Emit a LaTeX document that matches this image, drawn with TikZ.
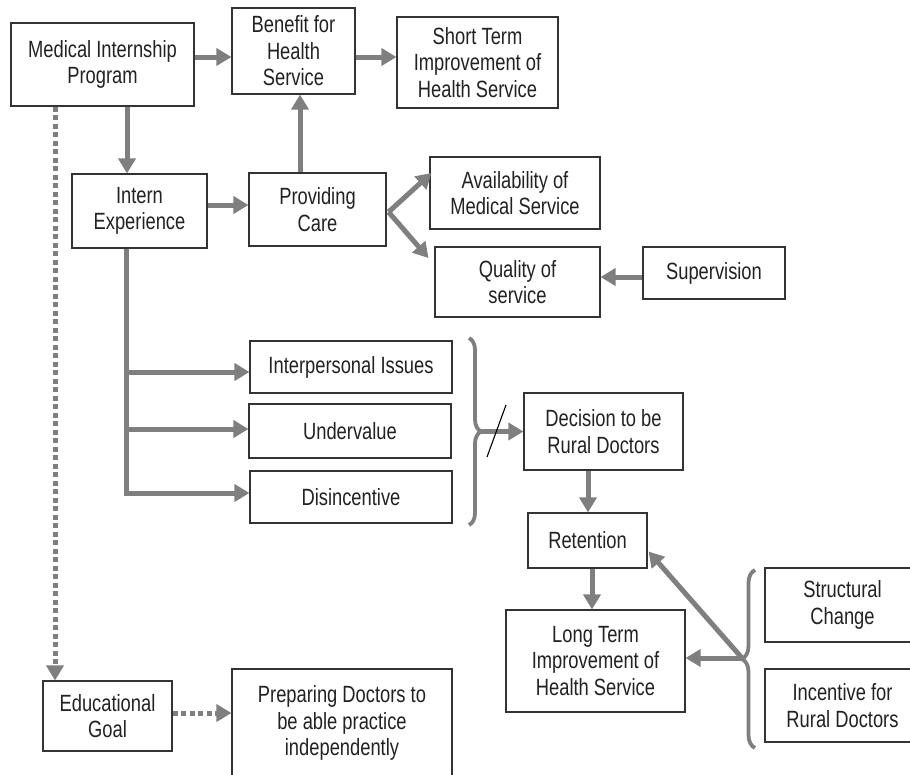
\documentclass[tikz,border=0pt]{standalone}
\usepackage{fontspec}
\setmainfont[FakeStretch=0.78]{Liberation Sans}
\usetikzlibrary{arrows.meta,decorations.pathreplacing}
\definecolor{arrgray}{HTML}{7F7F7F}
\definecolor{boxline}{HTML}{333333}
\definecolor{txt}{HTML}{222222}
\begin{document}
\begin{tikzpicture}[x=1pt,y=-1pt,
  box/.style={draw=boxline, line width=1.1pt, fill=white, align=center, inner sep=0pt,
    text=txt, font=\fontsize{23.5}{26.5}\selectfont},
  arr/.style={draw=arrgray, line width=5pt, -{Triangle[length=15pt,width=17pt]}},
  darr/.style={arr, dash pattern=on 5pt off 3.5pt},
  bracestyle/.style={draw=arrgray, line width=3.8pt, decorate},
  slash/.style={draw=black, line width=1.1pt}
]
\useasboundingbox (0,0) rectangle (910,774);

% boxes (centre, width, height from the reference)
\node[box, minimum width=183pt, minimum height=83pt] (mip) at (102.5,64.5) {Medical Internship\\Program};
\node[box, minimum width=123pt, minimum height=86pt] (benefit) at (293.5,51) {Benefit for\\Health\\Service};
\node[box, minimum width=161pt, minimum height=91pt] (short) at (477.5,62.5) {Short Term\\Improvement of\\Health Service};
\node[box, minimum width=135pt, minimum height=74pt] (intern) at (139.5,211) {Intern\\Experience};
\node[box, minimum width=137pt, minimum height=73pt] (care) at (317.5,209.5) {Providing\\Care};
\node[box, minimum width=170pt, minimum height=72pt] (avail) at (515,193) {Availability of\\Medical Service};
\node[box, minimum width=165pt, minimum height=70pt] (quality) at (517.5,282) {Quality of\\service};
\node[box, minimum width=142pt, minimum height=52pt] (superv) at (714,273) {Supervision};
\node[box, minimum width=202pt, minimum height=52pt] (inter) at (351,367) {Interpersonal Issues};
\node[box, minimum width=202pt, minimum height=54pt] (underv) at (350,431) {Undervalue};
\node[box, minimum width=202pt, minimum height=52pt] (disinc) at (351,497) {Disincentive};
\node[box, minimum width=159pt, minimum height=77pt] (decision) at (603.5,431.5) {Decision to be\\Rural Doctors};
\node[box, minimum width=119pt, minimum height=55pt] (retention) at (587.5,540.5) {Retention};
\node[box, minimum width=179pt, minimum height=102pt] (longterm) at (595.5,661) {Long Term\\Improvement of\\Health Service};
\node[box, minimum width=155pt, minimum height=74pt] (structural) at (842.5,605) {Structural\\Change};
\node[box, minimum width=155pt, minimum height=73pt] (incentive) at (842.5,705.5) {Incentive for\\Rural Doctors};
\node[box, minimum width=129pt, minimum height=70pt] (edu) at (107.5,716) {Educational\\Goal};
\node[box, minimum width=220pt, minimum height=108pt] (prep) at (342,723) {Preparing Doctors to\\be able practice\\independently};

% connectors
\draw[arr] ([yshift=7.5pt]mip.east) -- ([yshift=7.5pt]mip.east -| benefit.west);
\draw[arr] ([yshift=-6pt]benefit.east) -- ([yshift=-6pt]benefit.east -| short.west);
\draw[arr] ([xshift=24.5pt]mip.south) -- ([xshift=24.5pt]mip.south |- intern.north);
\draw[arr] ([xshift=-17.5pt]care.north) -- ([xshift=-17.5pt]care.north |- benefit.south);
\draw[arr] ([yshift=6pt]intern.east) -- ([yshift=6pt]intern.east -| care.west);

\coordinate (fork) at ([xshift=2pt,yshift=-2.5pt]care.east);
\draw[arr] (fork) -- ([xshift=2pt,yshift=20pt]avail.west);
\draw[arr] (fork) -- ([xshift=-6pt,yshift=24pt]quality.west);

\draw[arr] ([yshift=-4pt]superv.west) -- ([yshift=-4pt]superv.west -| quality.east);

\draw[arr] ([xshift=-13.5pt]intern.south) |- ([yshift=4pt]disinc.west);
\draw[arr] ([xshift=-13.5pt]intern.south) |- ([yshift=-5pt]inter.west);
\draw[arr] ([xshift=-13.5pt]intern.south) |- ([yshift=2pt]underv.west);

% right brace after the three issues
\draw[bracestyle, decoration={brace, amplitude=12pt}] (469,338) -- (469,525);
\coordinate (b1tip) at (481,431.5);
\draw[arr] (b1tip) -- (decision.west);
\draw[slash] (487,457) -- (506,405);

\draw[arr] ([xshift=-15.5pt]decision.south) -- ([xshift=-15.5pt]decision.south |- retention.north);
\draw[arr] ([xshift=4.5pt]retention.south) -- ([xshift=4.5pt]retention.south |- longterm.north);

% left brace before structural change / incentive
\draw[bracestyle, decoration={brace, amplitude=13pt}] (755,748) -- (755,570);
\coordinate (b2tip) at (742,658);
\draw[arr] (b2tip) -- ([yshift=3pt]longterm.east);
\draw[arr] (b2tip) -- ([xshift=1pt,yshift=-11pt]retention.east);

% dotted connectors
\draw[darr] ([xshift=-47.5pt]mip.south) -- ([xshift=-47.5pt]mip.south |- edu.north);
\draw[darr] ([yshift=3pt]edu.east) -- ([yshift=3pt]edu.east -| prep.west);
\end{tikzpicture}
\end{document}
